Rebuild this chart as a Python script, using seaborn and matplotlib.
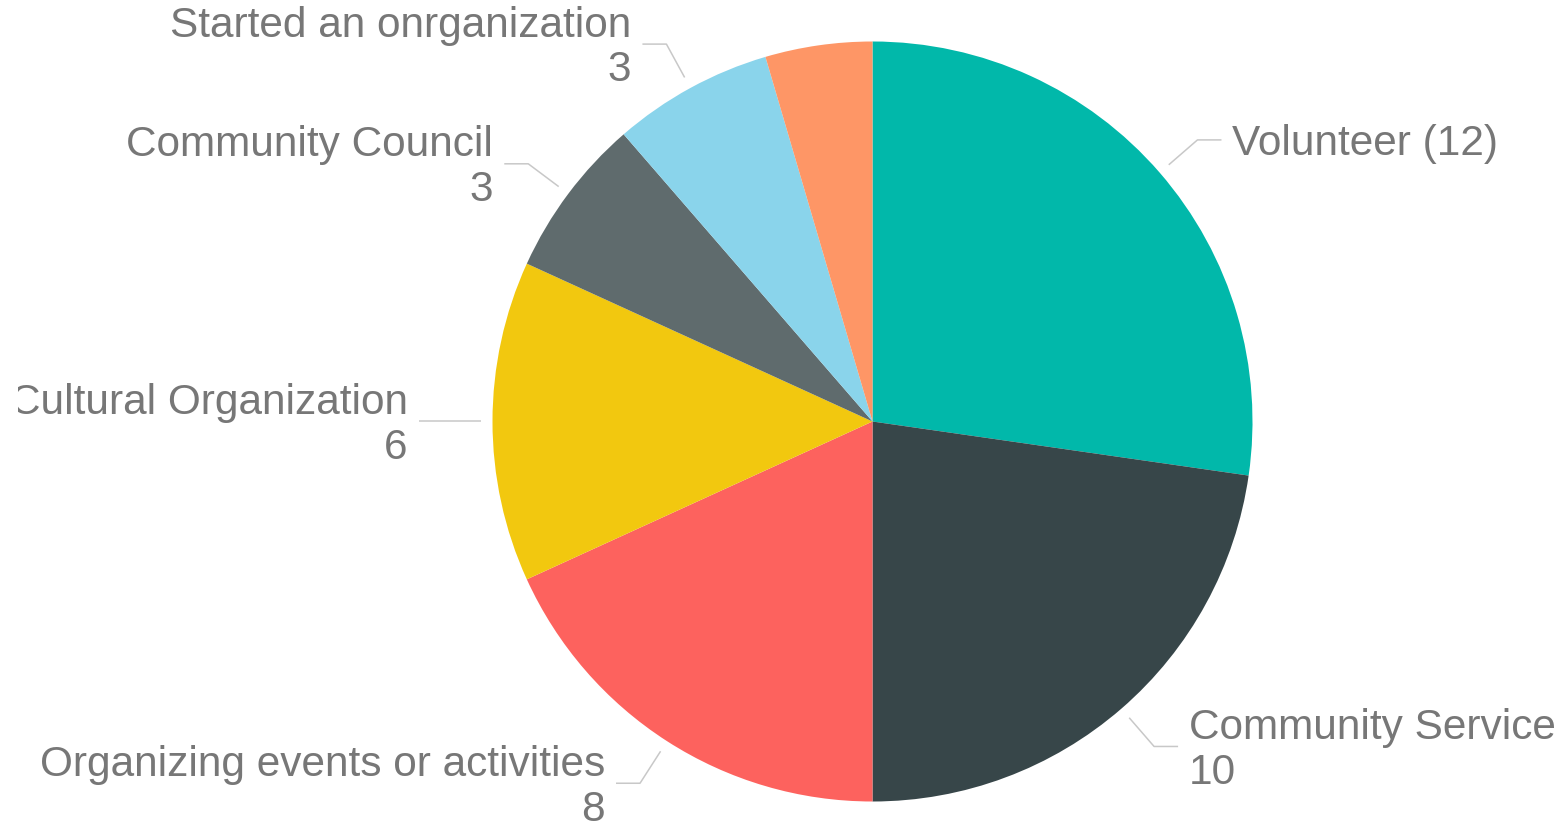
import numpy as np
import matplotlib
matplotlib.use("Agg")
import matplotlib.pyplot as plt
import seaborn as sns

# data, clockwise from the top
names = ["Volunteer", "Community Service", "Organizing events or activities",
         "Cultural Organization", "Community Council", "Started an onrganization", ""]
counts = [12, 10, 8, 6, 3, 3, 2]
show_label = [True, True, True, True, True, True, False]
colors = ["#01B8AA", "#374649", "#FD625E", "#F2C80F", "#5F6B6D", "#8AD4EB", "#FE9666"]

sns.set_theme(style="white")
plt.rcParams['font.family'] = ['Liberation Sans', 'DejaVu Sans']

W, H = 1568, 822
fig = plt.figure(figsize=(W / 100, H / 100), dpi=100)
# axes start a bit in from the left so the long left label gets clipped like the original
left = 18
ax = fig.add_axes([left / W, 0, 1 - left / W, 1])

cx, cy = 872.5, H - 421.5
R = 380
wedges, _ = ax.pie(counts, colors=sns.color_palette(colors), startangle=90,
                   counterclock=False, center=(cx, cy), radius=R,
                   wedgeprops=dict(linewidth=0))
ax.set_xlim(left, W)
ax.set_ylim(0, H)
ax.set_aspect('equal')
ax.axis('off')

txt_color = "#777777"
line_color = "#c8c8c8"
for i, w in enumerate(wedges):
    if not show_label[i]:
        continue
    th = np.deg2rad((w.theta1 + w.theta2) / 2)
    c, s = np.cos(th), np.sin(th)
    x0, y0 = cx + 392 * c, cy + 392 * s
    x1, y1 = cx + 430 * c, cy + 430 * s
    side = 1 if c > 0.01 else -1
    x2 = x1 + side * 24
    ax.plot([x0, x1, x2], [y0, y1, y1], color=line_color, lw=1.1, solid_capstyle='butt')
    if i == 0:
        label = f"{names[i]} ({counts[i]})"
    else:
        label = f"{names[i]}\n{counts[i]}"
    ax.text(x2 + side * 11, y1 - 4, label, fontsize=30.5, color=txt_color,
            ha='left' if side > 0 else 'right', va='center',
            multialignment='left' if side > 0 else 'right',
            linespacing=1.15, clip_on=True)

fig.savefig("out.png", dpi=100)
